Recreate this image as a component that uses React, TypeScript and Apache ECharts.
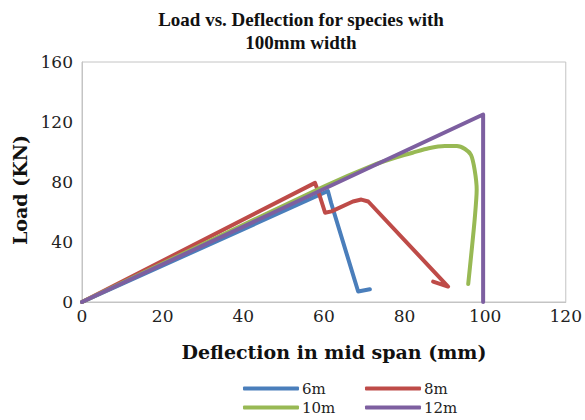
import React, { useEffect, useRef } from "react";
import * as echarts from "echarts";

const titleLines = ["Load vs. Deflection for species with", "100mm width"];
const xAxisTitle = "Deflection in mid span (mm)";
const yAxisTitle = "Load (KN)";
const seriesNames = ["6m", "8m", "10m", "12m"];
const seriesColors = ["#4A7EBB", "#BE4B48", "#98B954", "#7D5FA0"];

const data6m = [[0, 0], [61, 74], [61.8, 66], [68.5, 7], [71.4, 8.5]];
const data8m = [
  [0, 0], [57.8, 79.4], [59, 70.5], [60.3, 59.5], [61.9, 60.4], [67.2, 67],
  [69.3, 68.3], [71, 67], [90.8, 10.3], [87.1, 13.6],
];
const data10m = [
  [0, 0], [60, 77], [72, 91], [78, 96.5], [82, 99.5], [86, 102.5], [90, 104],
  [93, 104], [95, 102], [96.5, 98], [97.4, 88], [97.9, 75], [97.4, 55],
  [96.6, 33], [95.8, 12],
];
const data12m = [[0, 0], [99.5, 125], [99.5, 0]];

const xMin = 0, xMax = 120, xStep = 20;
const yMin = 0, yMax = 160, yStep = 40;

export default function App() {
  const ref = useRef<HTMLDivElement>(null);
  useEffect(() => {
    document.body.style.margin = "0";
    const chart = echarts.init(ref.current!, null, { renderer: "svg" });
    const all = [data6m, data8m, data10m, data12m];
    const legendBase = {
      orient: "vertical", top: 381, height: 60, padding: 0, itemGap: 4,
      itemWidth: 56, itemHeight: 4, icon: "roundRect",
      textStyle: { fontFamily: "DejaVu Serif", fontSize: 15, color: "#222", padding: [0, 0, 0, -2] },
    };
    chart.setOption({
      animation: false,
      backgroundColor: "#ffffff",
      grid: {
        left: 82, right: 18, top: 62, bottom: 118,
        show: true, borderColor: "#c4c4c4", borderWidth: 1,
      },
      xAxis: {
        type: "value", min: xMin, max: xMax, interval: xStep,
        axisLine: { show: true, lineStyle: { color: "#c4c4c4" } },
        axisTick: { show: false },
        splitLine: { show: false },
        axisLabel: { fontFamily: "DejaVu Serif", fontSize: 17, color: "#222", margin: 5 },
      },
      yAxis: {
        type: "value", min: yMin, max: yMax, interval: yStep,
        axisLine: { show: true, lineStyle: { color: "#c4c4c4" } },
        axisTick: { show: false },
        splitLine: { show: false },
        axisLabel: { fontFamily: "DejaVu Serif", fontSize: 17, color: "#222", margin: 9 },
      },
      legend: [
        { ...legendBase, data: [seriesNames[0], seriesNames[2]], left: 243 },
        { ...legendBase, data: [seriesNames[1], seriesNames[3]], left: 365 },
      ],
      graphic: [
        {
          type: "text", x: 301, y: 8,
          style: {
            text: titleLines.join("\n"), font: "bold 19px 'Liberation Serif'",
            fill: "#111", align: "center", verticalAlign: "top", lineHeight: 23,
          },
        },
        {
          type: "text", x: 334, y: 352,
          style: {
            text: xAxisTitle, font: "bold 19px 'DejaVu Serif'", fill: "#111",
            align: "center", verticalAlign: "middle",
          },
        },
        {
          type: "text", x: 20, y: 190, rotation: Math.PI / 2,
          style: {
            text: yAxisTitle, font: "bold 19px 'DejaVu Serif'", fill: "#111",
            align: "center", verticalAlign: "middle",
          },
        },
      ],
      series: seriesNames.map((name, i) => ({
        name, type: "line", data: all[i], symbol: "none", showSymbol: false,
        smooth: i === 2 ? 0.25 : false,
        color: seriesColors[i],
        lineStyle: { width: 4, color: seriesColors[i], cap: "round", join: "round" },
      })),
    });
    return () => chart.dispose();
  }, []);
  return <div ref={ref} style={{ width: 585, height: 420 }} />;
}
